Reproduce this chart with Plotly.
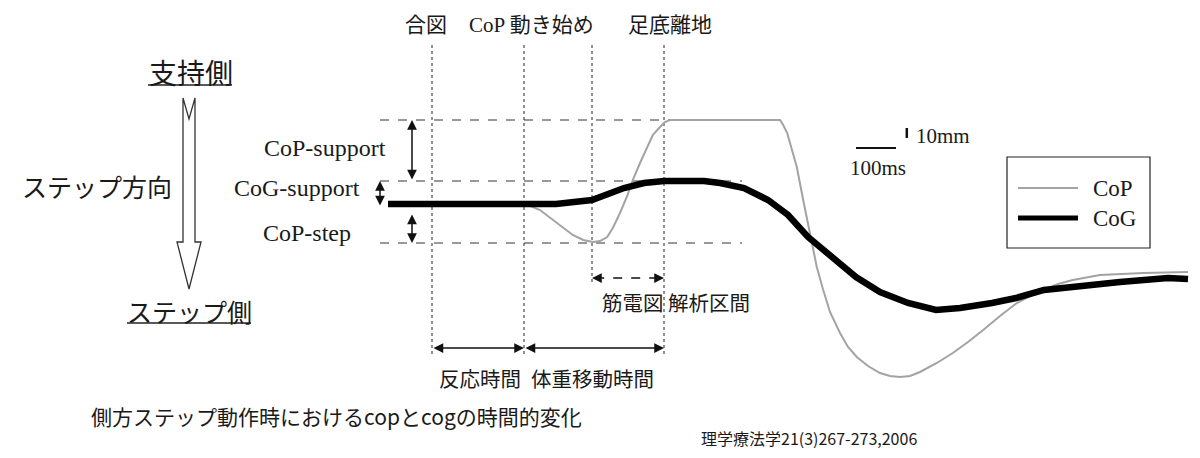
import plotly.graph_objects as go

# --- data: time in ms from 合図, lateral displacement in mm (+ = 支持側) ---
cop_t = [-110, 240, 270, 302, 328, 352, 378, 402, 420, 438, 452, 470, 488, 502, 520,
         538, 552, 570, 582, 595, 870, 878, 888, 900, 912, 928, 945, 962, 978, 995,
         1020, 1040, 1062, 1090, 1120, 1145, 1170, 1195, 1220, 1262, 1302, 1340, 1378,
         1420, 1462, 1495, 1528, 1565, 1602, 1670, 1778, 1890]
cop_mm = [0, -1, -6, -16, -24, -31, -36, -38, -37, -33, -24, -9, 8, 24, 41,
          57, 69, 77, 82, 84, 84, 79, 71, 54, 37, 4, -29, -63, -86, -108,
          -129, -143, -153, -162, -169, -172, -173, -172, -168, -159, -149, -138, -126,
          -112, -99, -92, -86, -80, -76, -71, -69, -68]

cog_t = [-110, 310, 400, 440, 480, 530, 580, 680, 720, 780, 840, 890, 940, 1000,
         1060, 1120, 1190, 1260, 1320, 1400, 1460, 1530, 1590, 1650, 1720, 1840, 1890]
cog_mm = [0, 0, 4, 10, 16, 21, 23, 23, 21, 16, 4, -11, -33, -53,
          -73, -88, -99, -106, -104, -99, -94, -86, -83, -81, -78, -74, -75]

event_t = [0, 230, 400, 580]
event_names = ['合図', 'CoP 動き始め', '', '足底離地']

level_names = ['CoP-support', 'CoG-support', 'CoP-step']
level_mm = [84, 23, -39]

series_names = ['CoP', 'CoG']
series_colors = ['#a3a3a3', '#000000']

# figure is laid out on a 1200x458 canvas; helpers for pixel -> paper
W, H = 1200, 458
def px(x):
    return x / W
def py(y):
    return 1 - y / H

SERIF = 'Liberation Serif, Noto Sans CJK JP'
JP = 'Noto Sans CJK JP'

fig = go.Figure()

fig.add_trace(go.Scatter(x=cop_t, y=cop_mm, mode='lines', name='CoP',
                         line=dict(color=series_colors[0], width=2)))
fig.add_trace(go.Scatter(x=cog_t, y=cog_mm, mode='lines', name='CoG',
                         line=dict(color=series_colors[1], width=6.5)))

# --- reference lines ---
for t, name in zip(event_t, event_names):
    bottom = -81 if name == '' else -153
    fig.add_shape(type='line', x0=t, x1=t, y0=159, y1=bottom, layer='below',
                  line=dict(color='#222', width=1, dash='dot'))

for lv in level_mm:
    fig.add_shape(type='line', x0=-130, x1=775, y0=lv, y1=lv, layer='below',
                  line=dict(color='#333', width=1, dash='dash'))


def arrow(x0, y0, x1, y1, both=True, width=1.5):
    fig.add_annotation(x=x1, y=y1, ax=x0, ay=y0, xref='x', yref='y', axref='x', ayref='y',
                       text='', showarrow=True, arrowside='end+start' if both else 'end',
                       arrowhead=2, arrowsize=1.3, arrowwidth=width, arrowcolor='#111')


def label(x, y, text, size, family=JP, xanchor='center', xref='paper', yref='paper', xshift=0):
    fig.add_annotation(x=x, y=y, xref=xref, yref=yref, text=text, showarrow=False,
                       xanchor=xanchor, yanchor='middle', xshift=xshift,
                       font=dict(family=family, size=size, color='#1a1a1a'))


# level arrows
arrow(-50, 23, -50, level_mm[0])
arrow(-130, -3, -130, level_mm[1])
arrow(-50, -9, -50, level_mm[2])

# time interval arrows
arrow(event_t[0], -144, event_t[1], -144)
arrow(event_t[1], -144, event_t[3], -144)
fig.add_shape(type='line', x0=event_t[2] + 8, x1=event_t[3] - 8, y0=-74, y1=-74,
              line=dict(color='#111', width=1.5, dash='dash'))
arrow(event_t[2] + 12, -74, event_t[2], -74, both=False)
arrow(event_t[3] - 12, -74, event_t[3], -74, both=False)

# --- text labels ---
shifts = [-6, 7, 0, 6]
for t, name, s in zip(event_t, event_names, shifts):
    if name:
        label(t, py(25), name, 21, family=SERIF, xref='x', xshift=s)

label(-110, 56, level_names[0], 24, family=SERIF, xanchor='right', xref='x', yref='y')
label(-175, 16, level_names[1], 24, family=SERIF, xanchor='right', xref='x', yref='y')
label(-197, -29, level_names[2], 24, family=SERIF, xanchor='right', xref='x', yref='y')

label((event_t[0] + event_t[1]) / 2 + 5, py(378), '反応時間', 20.5, xref='x')
label((event_t[1] + event_t[3]) / 2 - 5, py(378), '体重移動時間', 20.5, xref='x')
label(event_t[3] + 30, py(302), '筋電図 解析区間', 20.5, xref='x')

# left side: direction labels + hollow arrow
label(px(191), py(72), '支持側', 28)
label(px(189), py(311), 'ステップ側', 25)
label(px(97), py(186), 'ステップ方向', 25)
fig.add_shape(type='line', xref='paper', yref='paper', x0=px(148), x1=px(232), y0=py(85),
              y1=py(85), line=dict(color='#222', width=1.5))
fig.add_shape(type='line', xref='paper', yref='paper', x0=px(127), x1=px(251), y0=py(323),
              y1=py(323), line=dict(color='#222', width=1.5))

hollow = [(183, 98), (189, 119), (195, 98), (195, 242), (201, 242), (189, 289),
          (177, 242), (183, 242)]
path = 'M ' + ' L '.join(f'{px(a):.5f},{py(b):.5f}' for a, b in hollow) + ' Z'
fig.add_shape(type='path', xref='paper', yref='paper', path=path,
              line=dict(color='#333', width=1.3), fillcolor='white')

# scale bar (100 ms, 10 mm)
fig.add_shape(type='line', x0=1060, x1=1160, y0=56, y1=56, line=dict(color='#111', width=2))
fig.add_shape(type='line', x0=1187, x1=1187, y0=66, y1=76, line=dict(color='#111', width=2.5))
label(1205, 68, '10mm', 21, family=SERIF, xanchor='left', xref='x', yref='y')
label(1115, 36, '100ms', 21, family=SERIF, xref='x', yref='y')

# legend box
fig.add_shape(type='rect', xref='paper', yref='paper', x0=px(1007), x1=px(1150),
              y0=py(248), y1=py(157), line=dict(color='#222', width=1.2), fillcolor='white')
for i, (name, col) in enumerate(zip(series_names, series_colors)):
    yy = py(188 + 30 * i)
    fig.add_shape(type='line', xref='paper', yref='paper', x0=px(1018), x1=px(1078),
                  y0=yy, y1=yy, line=dict(color=col, width=2 if i == 0 else 5))
    label(px(1091), yy, name, 23, family=SERIF, xanchor='left')

# captions
label(px(89), py(416), '側方ステップ動作時におけるcopとcogの時間的変化', 21, xanchor='left')
label(px(699), py(438), '理学療法学21(3)267-273,2006', 16, xanchor='left')

fig.update_layout(
    width=W, height=H,
    margin=dict(l=0, r=0, t=0, b=0),
    paper_bgcolor='white', plot_bgcolor='white',
    showlegend=False,
    xaxis=dict(range=[-1080, 1920], visible=False),
    yaxis=dict(range=[-254, 204], visible=False),
)

fig.write_html("out.html", config={'displayModeBar': False},
               post_script="document.body.style.margin='0';")
